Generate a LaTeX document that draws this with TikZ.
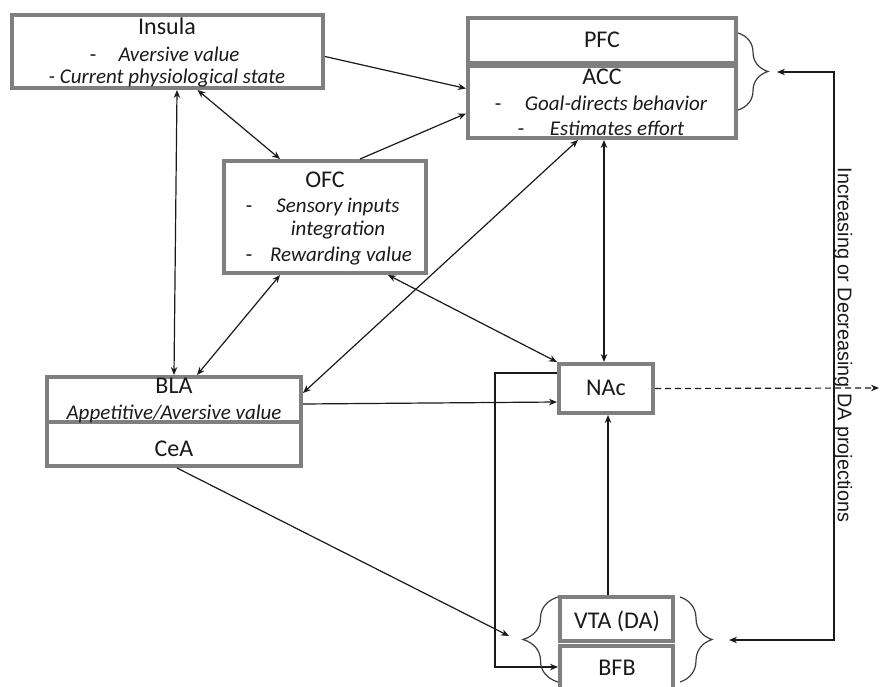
\documentclass[tikz,border=0pt]{standalone}
\usepackage{fontspec}
\setmainfont{Carlito}
\newfontfamily\arialfont{Liberation Sans}
\usetikzlibrary{arrows.meta,decorations.pathreplacing}
\definecolor{boxgray}{HTML}{7F7F7F}
\definecolor{ink}{HTML}{1A1A1A}
\begin{document}
\begin{tikzpicture}[x=1pt,y=-1pt,
  box/.style={draw=boxgray,line width=4pt,fill=white,inner sep=0pt,rectangle},
  head/.style={inner sep=0pt,anchor=base,text=ink,font=\fontsize{24}{28}\selectfont},
  ital/.style={inner sep=0pt,anchor=base,text=ink,font=\fontsize{21}{24}\selectfont\itshape},
  dashmark/.style={inner sep=0pt,anchor=base,text=ink,font=\fontsize{21}{24}\selectfont},
  conn/.style={draw=ink,line width=1.2pt},
  arr/.style={conn,-{Stealth[length=8pt,width=6.5pt]}},
  darr/.style={conn,{Stealth[length=8pt,width=6.5pt]}-{Stealth[length=8pt,width=6.5pt]}},
  bracepath/.style={draw=ink!85,line width=1.2pt,decorate,decoration={brace,amplitude=#1}},
]
\clip (0,0) rectangle (880,687);
\fill[white] (0,0) rectangle (880,687);

% boxes
\node[box,minimum width=311pt,minimum height=73pt] (insula) at (167.5,51.5) {};
\node[box,minimum width=268pt,minimum height=45pt] (pfc) at (602,40.5) {};
\node[box,minimum width=268pt,minimum height=72pt] (acc) at (602,102) {};
\node[box,minimum width=202pt,minimum height=112pt] (ofc) at (325,217) {};
\node[box,minimum width=254pt,minimum height=45pt] (bla) at (174,399.5) {};
\node[box,minimum width=254pt,minimum height=44pt] (cea) at (174,444) {};
\node[box,minimum width=94pt,minimum height=49pt] (nac) at (606,388.5) {};
\node[box,minimum width=113pt,minimum height=44pt] (vta) at (616.5,619) {};
\node[box,minimum width=113pt,minimum height=54pt] (bfb) at (616.5,673) {};

% texts
\node[head] (tInsula) at (167,35) {Insula};
\node[dashmark] (dIns) at (93,62) {-};
\node[ital] (tAversive) at (179,62) {Aversive value};
\node[ital] (tCurrent) at (167,84) {- Current physiological state};

\node[head] (tPFC) at (602,48) {PFC};
\node[head] (tACC) at (602,85) {ACC};
\node[dashmark] (dAcc1) at (498,111) {-};
\node[ital] (tGoal) at (616,111) {Goal-directs behavior};
\node[dashmark] (dAcc2) at (521,136) {-};
\node[ital] (tEffort) at (617,136) {Estimates effort};

\node[head] (tOFC) at (325,187) {OFC};
\node[dashmark] (dOfc1) at (249,212) {-};
\node[ital] (tSensory) at (338,212) {Sensory inputs};
\node[ital] (tInteg) at (338,235) {integration};
\node[dashmark] (dOfc2) at (249,261) {-};
\node[ital] (tReward) at (341,261) {Rewarding value};

\node[head] (tBLA) at (174,393) {BLA};
\node[ital] (tAppet) at (174,419) {Appetitive/Aversive value};
\node[head] (tCeA) at (174,456) {CeA};

\node[head] (tNAc) at (606,395) {NAc};
\node[head] (tVTA) at (617,628) {VTA (DA)};
\node[head] (tBFB) at (617,675) {BFB};

\node[inner sep=0pt,rotate=-90,text=ink,font=\arialfont\fontsize{19.8}{22}\selectfont] (tDA) at (843,345) {Increasing or Decreasing DA projections};

% coordinates for free ends
\coordinate (vtaleft) at (509,636);
\coordinate (dashend) at (879,388);
\coordinate (pfcin) at (777,72);
\coordinate (vtain) at (729,640);
\coordinate (loopx) at (834,0);

% connectors
\draw[arr] ([yshift=-5pt]insula.east) -- ([yshift=13.5pt]acc.west);
\draw[arr] ([xshift=35pt]ofc.north) -- ([yshift=-11.5pt]acc.west);
\draw[darr] ([xshift=30pt]insula.south) -- ([xshift=-45pt]ofc.north);
\draw[darr] ([xshift=9.5pt]insula.south) -- (bla.north);
\draw[darr] ([xshift=-45pt]ofc.south) -- ([xshift=23pt]bla.north);
\draw[darr] ([xshift=63pt]ofc.south) -- (nac.north west);
\draw[darr] ([xshift=-24pt]acc.south) -- ([yshift=6.5pt]bla.east);
\draw[darr] ([xshift=2pt]acc.south) -- ([xshift=-2pt]nac.north);
\draw[arr] ([yshift=-4.5pt]bla.east) -- ([yshift=-13.5pt]nac.west);
\draw[arr] ([xshift=3pt]cea.south) -- (vtaleft);
\draw[arr] ([xshift=-8.5pt]vta.north) -- ([xshift=2pt]nac.south);
\draw[arr] ([yshift=15.5pt]nac.west) -- ++(-62,0) |- ([yshift=6pt]bfb.west);
\draw[arr,dash pattern=on 6pt off 4pt] (nac.east) -- (dashend);
\draw[darr] (pfcin) -- (pfcin -| loopx) -- (vtain -| loopx) -- (vtain);

% braces
\draw[bracepath=30] (738,33) -- (738,110);
\draw[bracepath=35] (558,682) -- (558,597);
\draw[bracepath=32] (680,597) -- (680,682);
\end{tikzpicture}
\end{document}
